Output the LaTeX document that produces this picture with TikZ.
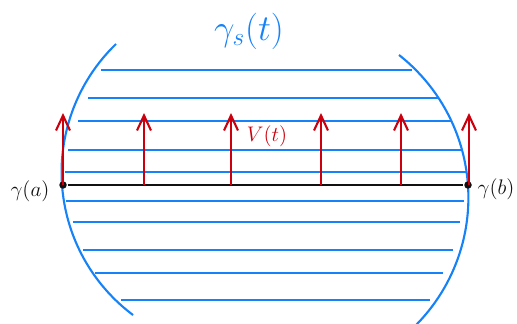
\documentclass[tikz,border=0pt]{standalone}
\usetikzlibrary{arrows.meta, positioning}
\definecolor{cblue}{HTML}{1682F8}
\definecolor{cred}{HTML}{CC000C}
\definecolor{cink}{HTML}{111111}
\tikzset{
  every picture/.style={line width=1.1pt},
  fiber/.style={draw=cblue, line width=1.2pt},
  curve/.style={draw=cink, line width=1.4pt},
  vec/.style={-{Straight Barb[length=3mm, width=2.8mm]}, draw=cred, line width=1.2pt},
  dot/.style={circle, fill=cink, inner sep=0pt, minimum size=0.15cm},
  lbl/.style={inner sep=1pt, font=\fontsize{13}{15}\selectfont},
}
\begin{document}
\begin{tikzpicture}[x=0.02cm, y=-0.02cm]
  \useasboundingbox (0,0) rectangle (517,324);
  % the variation: horizontal curves between the two boundary arcs
  \foreach \y/\xa/\xb in {70/101/412, 98/88/439, 121/78/451, 150/68/461, 172/65/466,
                          201/66/464, 222/73/460, 250/83/453, 273/95/443, 300/121/430}
    \draw[fiber] (\xa,\y) -- (\xb,\y);
  \draw[fiber] (116,44) arc[start angle=-134, end angle=-233.2, radius=178.3];
  \draw[fiber] (399,55) arc[start angle=-51.9, end angle=44.7, radius=181.2];
  % the curve gamma and its end points
  \node[dot] (ga) at (63,185) {};
  \node[dot] (gb) at (468,185) {};
  \draw[curve] (ga) -- (gb);
  % variation field
  \foreach \x in {63,144,231,321,401,469} {
    \coordinate (b\x) at (\x,185);
    \coordinate (t\x) at (\x,113);
    \draw[vec] (b\x) -- (t\x);
  }
  \node[lbl, text=cblue, font=\fontsize{20}{22}\selectfont] (gs) at (249,31) {$\gamma_s(t)$};
  \node[lbl, text=cred] (vt) at (267,136) {$V(t)$};
  \node[lbl, text=cink] (la) at (30,191) {$\gamma(a)$};
  \node[lbl, text=cink] (lb) at (496,189) {$\gamma(b)$};
\end{tikzpicture}
\end{document}
